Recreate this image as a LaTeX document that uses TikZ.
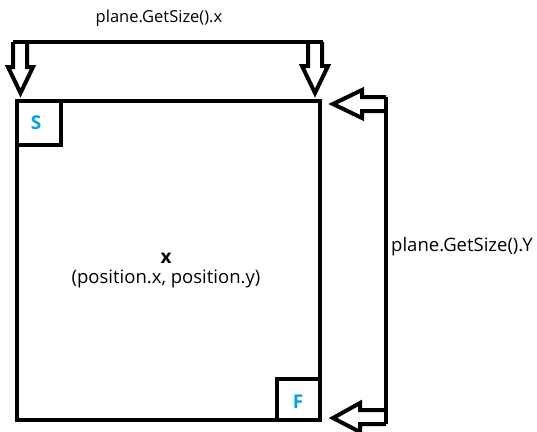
\documentclass[tikz,border=0pt]{standalone}
\usepackage{fontspec}
\setmainfont{Open Sans}
\definecolor{paintblue}{HTML}{00A2E8}
\tikzset{
  outline/.style={line width=4pt, line join=miter, black},
  lbl/.style={inner sep=0pt, font=\fontsize{18.5}{21}\selectfont},
  corner/.style={inner sep=0pt, text=paintblue, font=\fontsize{19}{22}\selectfont\bfseries}
}
\begin{document}
\begin{tikzpicture}[x=1pt, y=-1pt]
\useasboundingbox (0,0) rectangle (537,431);
% plane
\draw[outline] (17,101) rectangle (320,420);
% start and finish cells
\draw[outline] (17,101) -- (61,101) -- (61,145) -- (17,145);
\draw[outline] (277,420) -- (277,379) -- (320,379);
\node[corner] (s) at (36,123) {S};
\node[corner] (f) at (298,402) {F};
% width bracket with its two hollow arrows
\draw[outline] (13,42) -- (323,42);
\draw[outline] (13,42) -- (13,67) -- (8,67) -- (20.5,93) -- (33,67) -- (27,67) -- (27,42);
\draw[outline] (308,42) -- (308,66) -- (302,66) -- (315,93) -- (328,66) -- (322,66) -- (322,42);
% height bracket with its two hollow arrows
\draw[outline] (386,97) -- (386,424);
\draw[outline] (386,97) -- (362,97) -- (362,90) -- (333,104) -- (362,118) -- (362,111) -- (386,111);
\draw[outline] (386,410) -- (360,410) -- (360,403) -- (333,418) -- (360,432) -- (360,424) -- (386,424);
% labels
\node[lbl, font=\fontsize{16.5}{19}\selectfont] (w) at (159,18) {plane.GetSize().x};
\node[lbl, anchor=west] (h) at (391,247) {plane.GetSize().Y};
\node[lbl, font=\fontsize{19}{22}\selectfont\bfseries] (p) at (166,258) {x};
\node[lbl] (pos) at (166,279) {(position.x, position.y)};
\end{tikzpicture}
\end{document}
